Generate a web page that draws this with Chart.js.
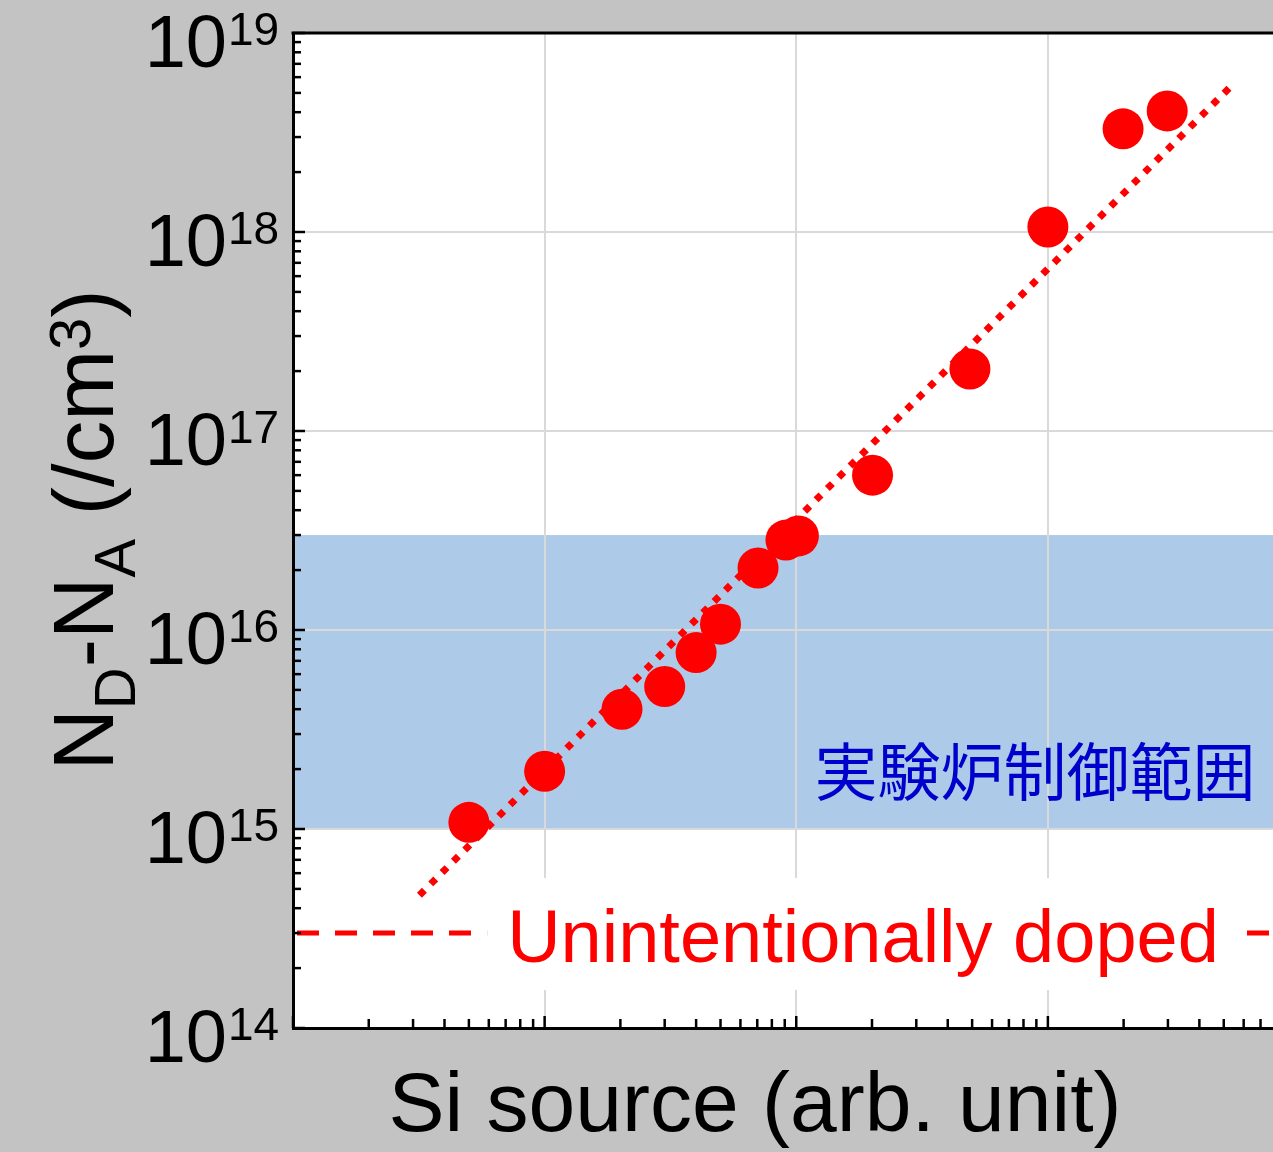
<!DOCTYPE html>
<html>
  <head>
    <title>Si doping</title>
    <script src="https://cdn.jsdelivr.net/npm/chart.js@4.4.1/dist/chart.umd.min.js"></script>
    <style>
      body {
        margin: 0;
        overflow: hidden;
        background: #c3c3c3;
      }
      #chart {
        display: block;
      }
    </style>
  </head>
  <body>
    <canvas id="chart" width="1320" height="1152"></canvas>
    <script>
      // measured points: Si source (arb. unit) vs N_D-N_A (/cm3)
      const siSource = [0.5, 1.0, 2.03, 3.0, 4.0, 5.0, 7.05, 9.1, 10.2, 20.1, 49, 100, 199, 298];
      const carrier = [1.08e15, 1.95e15, 4.0e15, 5.2e15, 7.7e15, 1.07e16, 2.05e16, 2.83e16, 2.97e16, 6.0e16, 2.05e17, 1.06e18, 3.3e18, 4.06e18];

      // dotted guide line end points
      const fitX = [0.318, 536];
      const fitY = [4.65e14, 5.42e18];

      // unintentionally doped level and controlled range band
      const undopedLevel = 3e14;
      const bandRange = [1e15, 3e16];

      const xRange = [0.1, 1000];
      const yExponents = [14, 15, 16, 17, 18, 19];

      const FONT = '"Liberation Sans", Arial, sans-serif';

      const isDecade = (v) => {
        if (!v) return false;
        const l = Math.log10(v);
        return Math.abs(l - Math.round(l)) < 1e-6;
      };

      const decorations = {
        id: "decorations",
        beforeDraw(chart) {
          const { ctx, chartArea: a } = chart;
          const y = chart.scales.y;
          ctx.save();
          ctx.fillStyle = "#c3c3c3";
          ctx.fillRect(0, 0, chart.width, chart.height);
          ctx.fillStyle = "#ffffff";
          ctx.fillRect(a.left, a.top, a.right - a.left, a.bottom - a.top);
          const bTop = y.getPixelForValue(bandRange[1]);
          const bBot = y.getPixelForValue(bandRange[0]);
          ctx.fillStyle = "#adcbe8";
          ctx.fillRect(a.left, bTop, a.right - a.left, bBot - bTop);
          ctx.restore();
        },
        afterDatasetsDraw(chart) {
          const { ctx } = chart;
          const y = chart.scales.y;
          const ly = y.getPixelForValue(undopedLevel);
          const text = "Unintentionally doped";
          ctx.save();
          ctx.font = "74px " + FONT;
          const w = ctx.measureText(text).width;
          const cx = 863;
          ctx.fillStyle = "#ffffff";
          ctx.fillRect(cx - w / 2 - 20, ly - 55, w + 40, 112);
          ctx.fillStyle = "#ff0000";
          ctx.textAlign = "center";
          ctx.textBaseline = "alphabetic";
          ctx.fillText(text, cx, ly + 29);

          // label of the band
          const bBot = y.getPixelForValue(bandRange[0]);
          ctx.font = '63px "Noto Sans CJK JP", sans-serif';
          ctx.fillStyle = "#0000cc";
          ctx.textBaseline = "middle";
          ctx.fillText("実験炉制御範囲", 1035, bBot - 58);
          ctx.restore();
        },
        afterDraw(chart) {
          const { ctx, chartArea: a } = chart;
          const x = chart.scales.x;
          const y = chart.scales.y;
          ctx.save();
          ctx.strokeStyle = "#000";

          // top frame
          ctx.lineWidth = 3;
          ctx.beginPath();
          ctx.moveTo(a.left - 1.5, a.top);
          ctx.lineTo(a.right, a.top);
          ctx.stroke();

          // inward ticks
          ctx.lineWidth = 2.5;
          for (let e = 14; e <= 19; e++) {
            for (let k = 1; k <= 9; k++) {
              const v = k * Math.pow(10, e);
              if (v > 1e19 * 1.0001) break;
              const p = y.getPixelForValue(v);
              const len = k === 1 ? 12 : 8;
              ctx.beginPath();
              ctx.moveTo(a.left, p);
              ctx.lineTo(a.left + len, p);
              ctx.stroke();
            }
          }
          for (let e = -1; e <= 3; e++) {
            for (let k = 1; k <= 9; k++) {
              const v = k * Math.pow(10, e);
              if (v > xRange[1] * 1.0001) break;
              const p = x.getPixelForValue(v);
              const len = k === 1 ? 12 : 9;
              ctx.beginPath();
              ctx.moveTo(p, a.bottom);
              ctx.lineTo(p, a.bottom - len);
              ctx.stroke();
            }
          }

          // y tick labels 10^n
          ctx.fillStyle = "#000";
          ctx.textBaseline = "alphabetic";
          yExponents.forEach((e) => {
            const p = y.getPixelForValue(Math.pow(10, e));
            ctx.font = "74px " + FONT;
            ctx.textAlign = "right";
            ctx.fillText("10", 227, p + 34);
            ctx.font = "46px " + FONT;
            ctx.textAlign = "left";
            ctx.fillText(String(e), 228, p + 12);
          });

          // x title
          ctx.font = "84px " + FONT;
          ctx.textAlign = "center";
          ctx.fillText("Si source (arb. unit)", 755, 1131);

          // y title with sub/superscripts
          const parts = [
            ["N", 85, 0],
            ["D", 58, 22],
            ["-", 85, 0],
            ["N", 85, 0],
            ["A", 58, 22],
            [" (/cm", 85, 0],
            ["3", 58, -23],
            [")", 85, 0],
          ];
          let total = 0;
          parts.forEach((p) => {
            ctx.font = p[1] + "px " + FONT;
            p.push(ctx.measureText(p[0]).width);
            total += p[3];
          });
          ctx.translate(113, 530);
          ctx.rotate(-Math.PI / 2);
          ctx.textAlign = "left";
          let cur = -total / 2;
          parts.forEach((p) => {
            ctx.font = p[1] + "px " + FONT;
            ctx.fillText(p[0], cur, p[2]);
            cur += p[3];
          });
          ctx.restore();
        },
      };

      const gridColor = (c) => (c.tick && isDecade(c.tick.value) ? "#d9d9d9" : "rgba(0,0,0,0)");

      new Chart(document.getElementById("chart"), {
        data: {
          datasets: [
            {
              type: "scatter",
              data: siSource.map((v, i) => ({ x: v, y: carrier[i] })),
              backgroundColor: "#ff0000",
              borderWidth: 0,
              pointRadius: 20.5,
              pointHoverRadius: 20.5,
            },
            {
              type: "line",
              data: fitX.map((v, i) => ({ x: v, y: fitY[i] })),
              borderColor: "#ff0000",
              borderWidth: 7,
              borderDash: [7, 9],
              borderCapStyle: "butt",
              pointRadius: 0,
              fill: false,
            },
            {
              type: "line",
              data: xRange.map((v) => ({ x: v, y: undopedLevel })),
              borderColor: "#ff0000",
              borderWidth: 5,
              borderDash: [22, 16],
              borderDashOffset: -4,
              borderCapStyle: "butt",
              pointRadius: 0,
              fill: false,
            },
          ],
        },
        options: {
          responsive: false,
          animation: false,
          devicePixelRatio: 1,
          events: [],
          layout: { padding: { left: 293, top: 33, right: 5, bottom: 124 } },
          plugins: { legend: { display: false }, tooltip: { enabled: false } },
          scales: {
            x: {
              type: "logarithmic",
              min: xRange[0],
              max: xRange[1],
              ticks: { display: false },
              grid: { color: gridColor, lineWidth: 2, drawTicks: false },
              border: { color: "#000", width: 3 },
            },
            y: {
              type: "logarithmic",
              min: Math.pow(10, yExponents[0]),
              max: Math.pow(10, yExponents[yExponents.length - 1]),
              ticks: { display: false },
              grid: { color: gridColor, lineWidth: 2, drawTicks: false },
              border: { color: "#000", width: 3 },
            },
          },
        },
        plugins: [decorations],
      });
    </script>
  </body>
</html>
